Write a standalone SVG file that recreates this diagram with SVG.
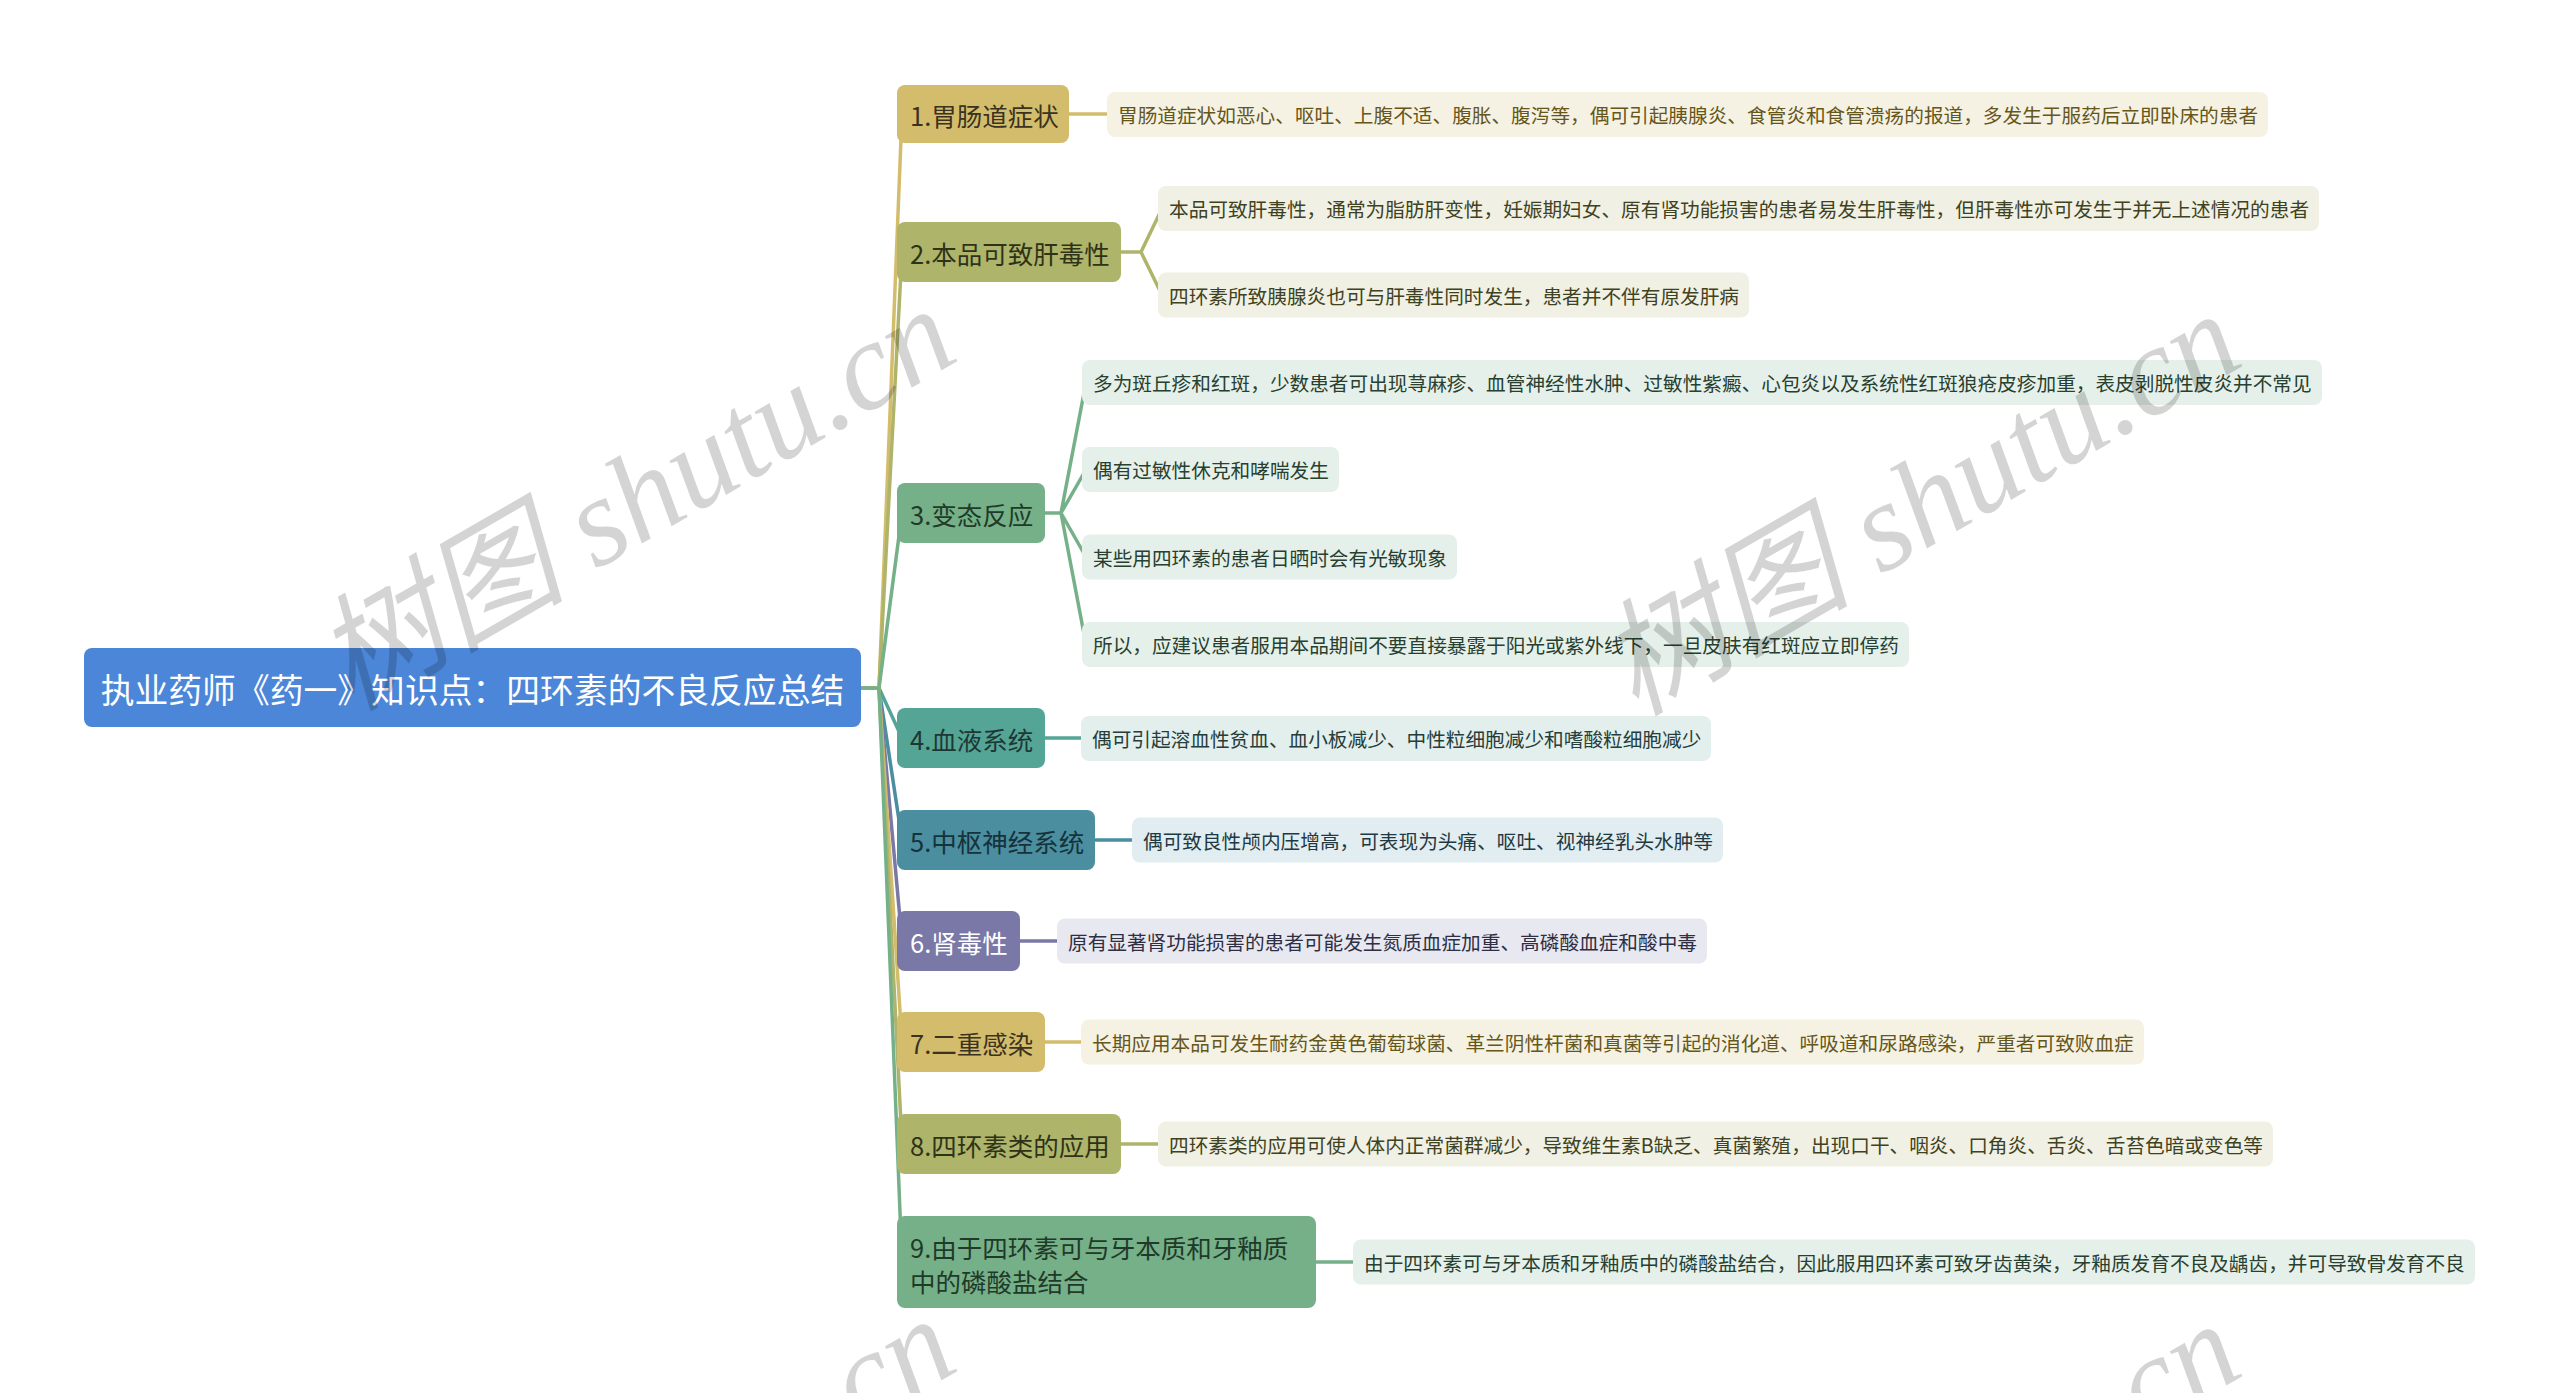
<svg xmlns="http://www.w3.org/2000/svg" width="2560" height="1393" viewBox="0 0 2560 1393">
<style>
text{font-family:"Noto Sans CJK SC","Noto Sans",sans-serif;dominant-baseline:central}
.root-t{font-size:33.8px;fill:#ffffff}
.bt{font-size:25.5px}
.lt{font-size:19.66px}
.ln{fill:none;stroke-width:3.5;stroke-linecap:round}
.c1{stroke:#d3bd6c}.c2{stroke:#afb46b}.c3{stroke:#75b089}.c4{stroke:#55a597}.c5{stroke:#4a8ea0}.c6{stroke:#7a78a6}
.n1{fill:#d3bd6c}.n2{fill:#afb46b}.n3{fill:#75b089}.n4{fill:#55a597}.n5{fill:#4a8ea0}.n6{fill:#7a78a6}
.t1{fill:#3b3320}.t2{fill:#2e3318}.t3{fill:#1f3a28}.t4{fill:#1d3834}.t5{fill:#16323a}.t6{fill:#ffffff}
.l1{fill:#f5f2e3}.l2{fill:#f0f0e4}.l3{fill:#e6f0ea}.l4{fill:#e2efed}.l5{fill:#e1edf0}.l6{fill:#e8e8f1}
.lt1{fill:#66561a}.lt2{fill:#3f4220}.lt3{fill:#27402f}.lt4{fill:#263d3a}.lt5{fill:#1f3942}.lt6{fill:#2e2e44}
.wm{font-family:"Liberation Serif","Noto Sans CJK SC",serif;font-style:italic;font-size:126px;fill:#000;fill-opacity:0.17;dominant-baseline:auto}
</style>
<rect width="2560" height="1393" fill="#ffffff"/>
<g id="connectors">
  <path class="ln c1" d="M861,688 H879 L902,114"/>
  <path class="ln c2" d="M861,688 H879 L902,252"/>
  <path class="ln c3" d="M861,688 H879 L902,513"/>
  <path class="ln c4" d="M861,688 H879 L902,738"/>
  <path class="ln c5" d="M861,688 H879 L902,840"/>
  <path class="ln c6" d="M861,688 H879 L902,941"/>
  <path class="ln c1" d="M861,688 H879 L902,1042"/>
  <path class="ln c2" d="M861,688 H879 L902,1144"/>
  <path class="ln c3" d="M861,688 H879 L902,1262"/>
  <path class="ln c1" d="M1065,114 H1110"/>
  <path class="ln c2" d="M1118,252 H1141 L1162,208.5 M1141,252 L1162,295"/>
  <path class="ln c3" d="M1042,513 H1061 L1086,382.5 M1061,513 L1086,469.5 M1061,513 L1086,557 M1061,513 L1086,644.5"/>
  <path class="ln c4" d="M1042,738 H1084"/>
  <path class="ln c5" d="M1092,840 H1135"/>
  <path class="ln c6" d="M1017,941 H1060"/>
  <path class="ln c1" d="M1042,1042 H1084"/>
  <path class="ln c2" d="M1118,1144 H1161"/>
  <path class="ln c3" d="M1313,1262 H1356"/>
</g>
<g id="root">
  <rect x="84" y="648" width="777" height="79" rx="8" fill="#4c86d8"/>
  <text class="root-t" x="472.5" y="688" text-anchor="middle">执业药师《药一》知识点：四环素的不良反应总结</text>
</g>
<g id="b1"><rect class="n1" x="897" y="85" width="172" height="58" rx="8"/><text class="bt t1" x="910" y="114">1.胃肠道症状</text></g>
<g id="b2"><rect class="n2" x="897" y="222" width="224" height="60" rx="8"/><text class="bt t2" x="910" y="252">2.本品可致肝毒性</text></g>
<g id="b3"><rect class="n3" x="897" y="483" width="148" height="60" rx="8"/><text class="bt t3" x="910" y="513">3.变态反应</text></g>
<g id="b4"><rect class="n4" x="897" y="708" width="148" height="60" rx="8"/><text class="bt t4" x="910" y="738">4.血液系统</text></g>
<g id="b5"><rect class="n5" x="897" y="810" width="198" height="60" rx="8"/><text class="bt t5" x="910" y="840">5.中枢神经系统</text></g>
<g id="b6"><rect class="n6" x="897" y="911" width="123" height="60" rx="8"/><text class="bt t6" x="910" y="941">6.肾毒性</text></g>
<g id="b7"><rect class="n1" x="897" y="1012" width="148" height="60" rx="8"/><text class="bt t1" x="910" y="1042">7.二重感染</text></g>
<g id="b8"><rect class="n2" x="897" y="1114" width="224" height="60" rx="8"/><text class="bt t2" x="910" y="1144">8.四环素类的应用</text></g>
<g id="b9"><rect class="n3" x="897" y="1216" width="419" height="92" rx="8"/><text class="bt t3" x="910" y="1246">9.由于四环素可与牙本质和牙釉质</text><text class="bt t3" x="910" y="1280">中的磷酸盐结合</text></g>
<g id="l1"><rect class="l1" x="1107" y="92" width="1161" height="45" rx="8"/><text class="lt lt1" x="1118" y="114.5">胃肠道症状如恶心、呕吐、上腹不适、腹胀、腹泻等，偶可引起胰腺炎、食管炎和食管溃疡的报道，多发生于服药后立即卧床的患者</text></g>
<g id="l2a"><rect class="l2" x="1158" y="186" width="1161" height="45" rx="8"/><text class="lt lt2" x="1169" y="208.5">本品可致肝毒性，通常为脂肪肝变性，妊娠期妇女、原有肾功能损害的患者易发生肝毒性，但肝毒性亦可发生于并无上述情况的患者</text></g>
<g id="l2b"><rect class="l2" x="1158" y="272.5" width="591" height="45" rx="8"/><text class="lt lt2" x="1169" y="295">四环素所致胰腺炎也可与肝毒性同时发生，患者并不伴有原发肝病</text></g>
<g id="l3a"><rect class="l3" x="1082" y="360" width="1240" height="45" rx="8"/><text class="lt lt3" x="1093" y="382.5">多为斑丘疹和红斑，少数患者可出现荨麻疹、血管神经性水肿、过敏性紫癜、心包炎以及系统性红斑狼疮皮疹加重，表皮剥脱性皮炎并不常见</text></g>
<g id="l3b"><rect class="l3" x="1082" y="447" width="257" height="45" rx="8"/><text class="lt lt3" x="1093" y="469.5">偶有过敏性休克和哮喘发生</text></g>
<g id="l3c"><rect class="l3" x="1082" y="534.5" width="375" height="45" rx="8"/><text class="lt lt3" x="1093" y="557">某些用四环素的患者日晒时会有光敏现象</text></g>
<g id="l3d"><rect class="l3" x="1082" y="622" width="827" height="45" rx="8"/><text class="lt lt3" x="1093" y="644.5">所以，应建议患者服用本品期间不要直接暴露于阳光或紫外线下，一旦皮肤有红斑应立即停药</text></g>
<g id="l4"><rect class="l4" x="1081" y="716" width="630" height="45" rx="8"/><text class="lt lt4" x="1092" y="738.5">偶可引起溶血性贫血、血小板减少、中性粒细胞减少和嗜酸粒细胞减少</text></g>
<g id="l5"><rect class="l5" x="1132" y="817.5" width="591" height="45" rx="8"/><text class="lt lt5" x="1143" y="840">偶可致良性颅内压增高，可表现为头痛、呕吐、视神经乳头水肿等</text></g>
<g id="l6"><rect class="l6" x="1057" y="918.5" width="650" height="45" rx="8"/><text class="lt lt6" x="1068" y="941">原有显著肾功能损害的患者可能发生氮质血症加重、高磷酸血症和酸中毒</text></g>
<g id="l7"><rect class="l1" x="1081" y="1019.5" width="1063" height="45" rx="8"/><text class="lt lt1" x="1092" y="1042">长期应用本品可发生耐药金黄色葡萄球菌、革兰阴性杆菌和真菌等引起的消化道、呼吸道和尿路感染，严重者可致败血症</text></g>
<g id="l8"><rect class="l2" x="1158" y="1121.5" width="1115" height="45" rx="8"/><text class="lt lt2" x="1169" y="1144">四环素类的应用可使人体内正常菌群减少，导致维生素B缺乏、真菌繁殖，出现口干、咽炎、口角炎、舌炎、舌苔色暗或变色等</text></g>
<g id="l9"><rect class="l3" x="1353" y="1239.5" width="1122" height="45" rx="8"/><text class="lt lt3" x="1364" y="1262">由于四环素可与牙本质和牙釉质中的磷酸盐结合，因此服用四环素可致牙齿黄染，牙釉质发育不良及龋齿，并可导致骨发育不良</text></g>
<g id="watermarks">
  <text class="wm" transform="translate(350,712) rotate(-30)">树图 shutu.cn</text>
  <text class="wm" transform="translate(1635,717) rotate(-30)">树图 shutu.cn</text>
  <text class="wm" transform="translate(350,1722) rotate(-30)">树图 shutu.cn</text>
  <text class="wm" transform="translate(1635,1727) rotate(-30)">树图 shutu.cn</text>
</g>
</svg>
